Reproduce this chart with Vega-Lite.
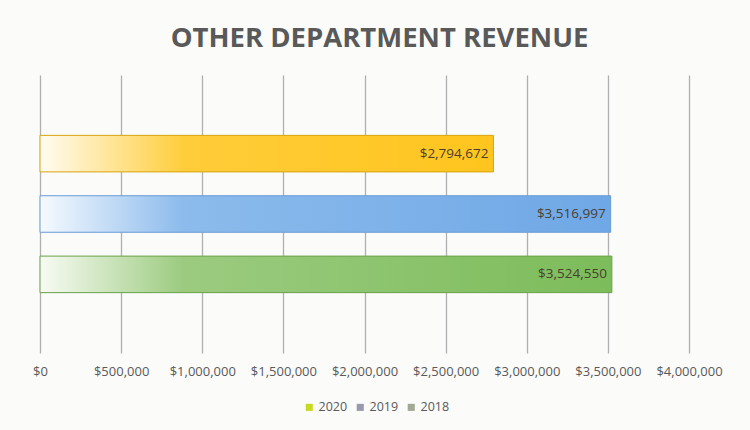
{
  "$schema": "https://vega.github.io/schema/vega-lite/v6.json",
  "width": 649,
  "height": 278,
  "autosize": "none",
  "padding": {"left": 40, "top": 75, "right": 61, "bottom": 77},
  "background": "#fbfbf9",
  "config": {"view": {"stroke": null}},
  "title": {
    "text": "OTHER DEPARTMENT REVENUE",
    "font": "Open Sans",
    "fontSize": 27.5,
    "fontWeight": "bold",
    "color": "#595959",
    "anchor": "middle",
    "dx": 15,
    "offset": 23
  },
  "data": {
    "values": [
      {"year": "2020", "revenue": 2794672, "label": "$2,794,672"},
      {"year": "2019", "revenue": 3516997, "label": "$3,516,997"},
      {"year": "2018", "revenue": 3524550, "label": "$3,524,550"}
    ]
  },
  "encoding": {
    "y": {
      "field": "year",
      "type": "nominal",
      "sort": ["2020", "2019", "2018"],
      "scale": {"paddingInner": 0.395, "paddingOuter": 1.025},
      "axis": null
    },
    "x": {
      "field": "revenue",
      "type": "quantitative",
      "scale": {"domain": [0, 4000000], "nice": false},
      "axis": {
        "title": null,
        "values": [0, 500000, 1000000, 1500000, 2000000, 2500000, 3000000, 3500000, 4000000],
        "format": "$,.0f",
        "domain": false,
        "ticks": false,
        "grid": true,
        "gridColor": "#b0b0b0",
        "gridWidth": 1.3,
        "labelFont": "Open Sans",
        "labelFontSize": 13,
        "labelColor": "#595959",
        "labelPadding": 12,
        "labelOverlap": false,
        "labelFlush": false,
        "labelBound": false
      }
    }
  },
  "layer": [
    {
      "transform": [{"filter": "datum.year === '2020'"}],
      "mark": {
        "type": "bar",
        "stroke": "#d8a410",
        "strokeWidth": 1,
        "color": {
          "gradient": "linear", "x1": 0, "y1": 0, "x2": 1, "y2": 0,
          "stops": [
            {"offset": 0, "color": "#fffcf2"},
            {"offset": 0.32, "color": "#ffcd3a"},
            {"offset": 1, "color": "#ffc51e"}
          ]
        }
      }
    },
    {
      "transform": [{"filter": "datum.year === '2019'"}],
      "mark": {
        "type": "bar",
        "stroke": "#6b9bd6",
        "strokeWidth": 1,
        "color": {
          "gradient": "linear", "x1": 0, "y1": 0, "x2": 1, "y2": 0,
          "stops": [
            {"offset": 0, "color": "#f6faff"},
            {"offset": 0.25, "color": "#8cbbec"},
            {"offset": 1, "color": "#6fa8e6"}
          ]
        }
      }
    },
    {
      "transform": [{"filter": "datum.year === '2018'"}],
      "mark": {
        "type": "bar",
        "stroke": "#6aa24a",
        "strokeWidth": 1,
        "color": {
          "gradient": "linear", "x1": 0, "y1": 0, "x2": 1, "y2": 0,
          "stops": [
            {"offset": 0, "color": "#f8fbf4"},
            {"offset": 0.25, "color": "#9ccb80"},
            {"offset": 1, "color": "#7cbc5a"}
          ]
        }
      }
    },
    {
      "mark": {"type": "bar", "opacity": 0},
      "encoding": {
        "color": {
          "field": "year",
          "type": "nominal",
          "scale": {"domain": ["2020", "2019", "2018"], "range": ["#c6da1e", "#9a9aae", "#a2a894"]},
          "legend": {
            "title": null,
            "orient": "none",
            "direction": "horizontal",
            "legendX": 263,
            "legendY": 326,
            "symbolType": "square",
            "symbolSize": 50,
            "symbolOpacity": 1,
            "symbolStrokeWidth": 0,
            "labelFont": "Open Sans",
            "labelFontSize": 12.5,
            "labelColor": "#595959",
            "columnPadding": 6,
            "labelOffset": 3
          }
        }
      }
    },
    {
      "mark": {
        "type": "text",
        "align": "right",
        "baseline": "middle",
        "dx": -5,
        "font": "Open Sans",
        "fontSize": 13.5,
        "color": "#4a4030"
      },
      "encoding": {"text": {"field": "label"}}
    }
  ]
}
